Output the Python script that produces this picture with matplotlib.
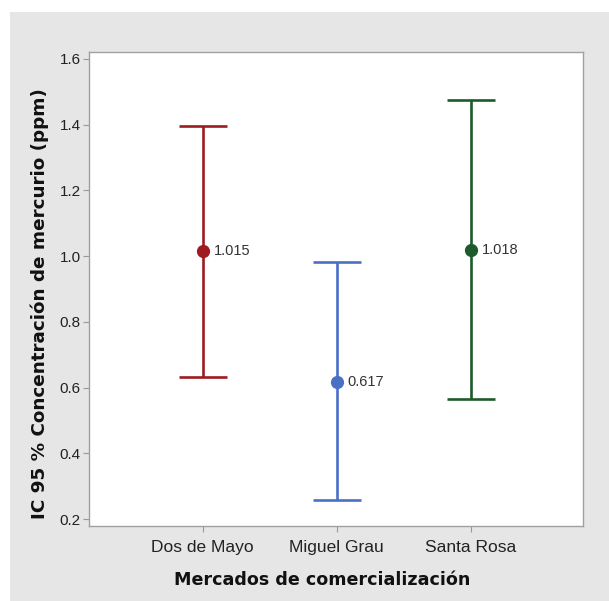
import matplotlib
matplotlib.use("Agg")
import matplotlib.pyplot as plt
from matplotlib.patches import Rectangle

# IC 95 % de la concentración de mercurio por mercado
mercados = ["Dos de Mayo", "Miguel Grau", "Santa Rosa"]
media = [1.015, 0.617, 1.018]
lim_inf = [0.632, 0.258, 0.565]
lim_sup = [1.396, 0.982, 1.475]
colores = ["#9e1b20", "#4a70c6", "#1d5a2c"]
yticks = [0.2, 0.4, 0.6, 0.8, 1.0, 1.2, 1.4, 1.6]

fig = plt.figure(figsize=(6.09, 6.01), dpi=100, facecolor="white")
fondo = Rectangle((10 / 609, 0), 1, 1 - 12 / 601, transform=fig.transFigure,
                  facecolor="#e6e6e6", edgecolor="none", zorder=-10)
fig.add_artist(fondo)

ax = fig.add_axes([89 / 609, 1 - 526 / 601, (583 - 89) / 609, (526 - 52) / 601])
ax.set_facecolor("white")
ax.set_zorder(5)

for i, (m, lo, hi, c) in enumerate(zip(media, lim_inf, lim_sup, colores)):
    x = i + 1
    ax.errorbar(x, m, yerr=[[m - lo], [hi - m]], fmt="o", color=c, ecolor=c,
                elinewidth=1.9, capsize=17, capthick=1.9, markersize=8.5, zorder=3)
    ax.annotate(f"{m:.3f}", xy=(x, m), xytext=(8, 0), textcoords="offset points",
                va="center", ha="left", fontsize=10.5, color="#333333",
                family="Liberation Sans")

ax.set_xlim(0.15, 3.84)
ax.set_ylim(0.179, 1.621)
ax.set_xticks(range(1, len(mercados) + 1))
ax.set_xticklabels(mercados, family="Liberation Sans", fontsize=12.5, color="#222222")
ax.set_yticks(yticks)
ax.set_yticklabels([f"{v:.1f}" for v in yticks], family="Liberation Sans",
                   fontsize=11, color="#222222")
ax.tick_params(axis="both", color="#999999", length=4, width=0.8)
ax.tick_params(axis="x", pad=6)
ax.tick_params(axis="y", pad=2)

for s in ax.spines.values():
    s.set_color("#a0a0a0")
    s.set_linewidth(1)

ax.set_xlabel("Mercados de comercialización", fontsize=12.6, fontweight="bold",
              family="DejaVu Sans", color="#111111")
ax.set_ylabel("IC 95 % Concentración de mercurio (ppm)", fontsize=13.2, fontweight="bold",
              family="DejaVu Sans", color="#111111")
ax.xaxis.set_label_coords(0.472, -0.095)
ax.yaxis.set_label_coords(-0.081, 0.47)

fig.savefig("out.png", dpi=100, facecolor=fig.get_facecolor())
